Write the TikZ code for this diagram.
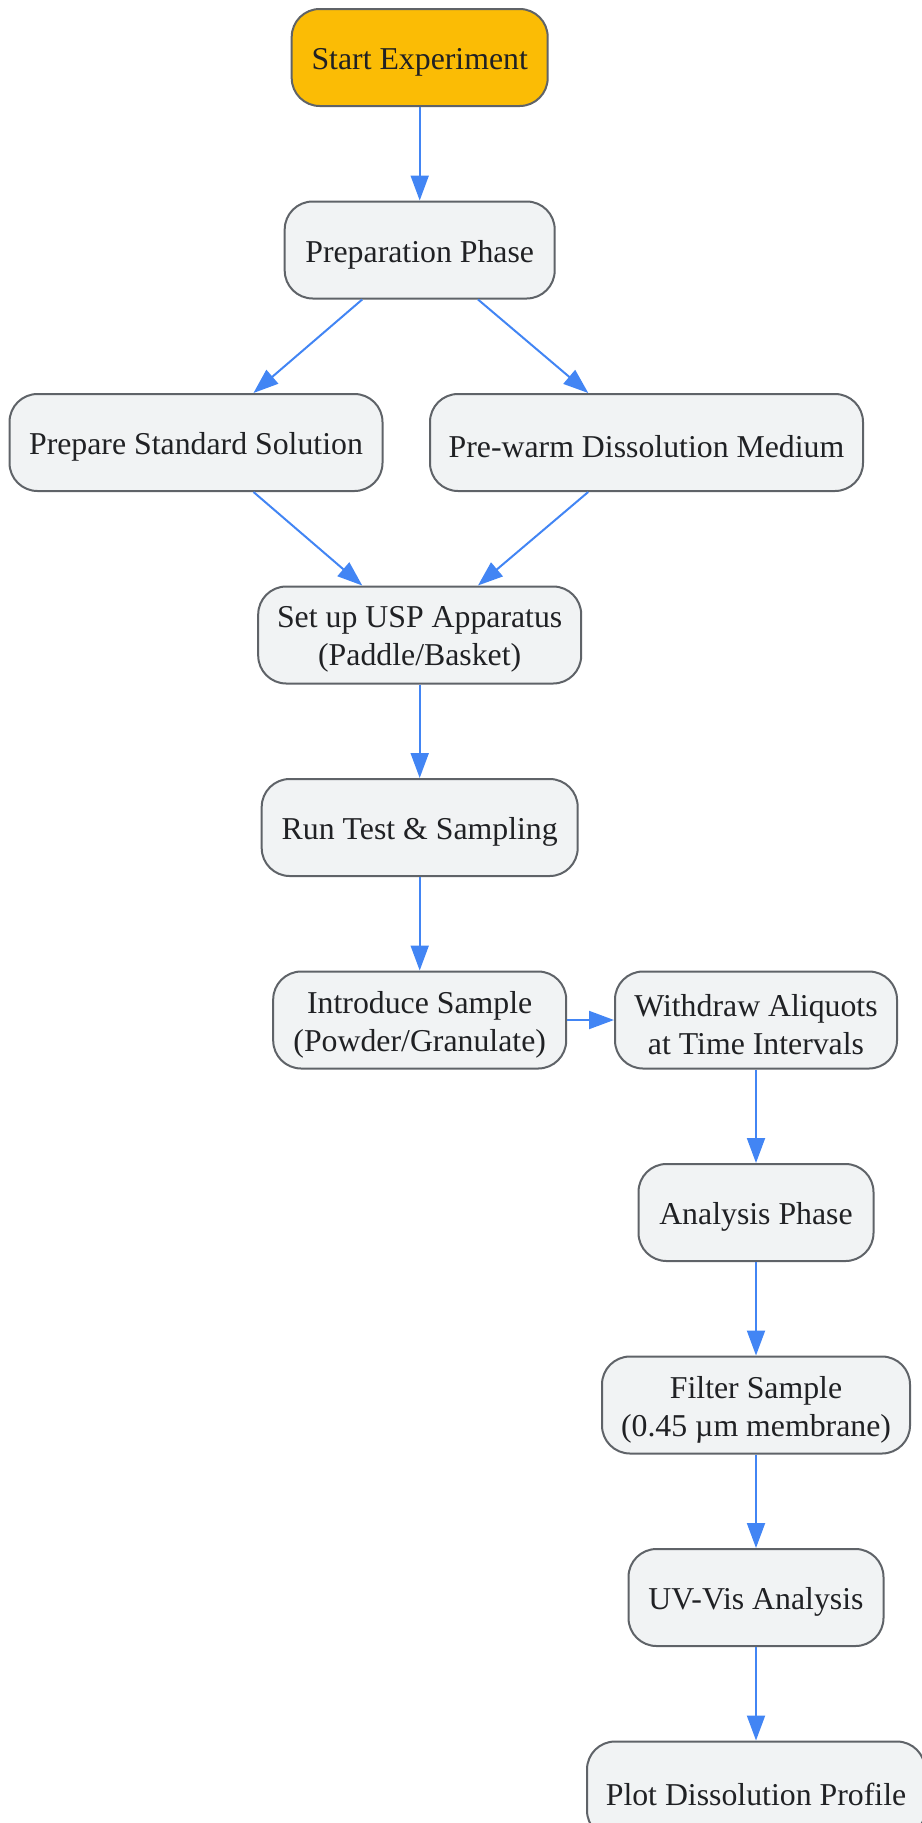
\documentclass[tikz,border=0pt]{standalone}
\usepackage{fontspec}
\setmainfont{Liberation Serif}
\usetikzlibrary{arrows.meta}
\definecolor{bordergray}{HTML}{5F6368}
\definecolor{boxfill}{HTML}{F1F3F4}
\definecolor{startfill}{HTML}{FBBC05}
\definecolor{arrowblue}{HTML}{4285F4}
\definecolor{txt}{HTML}{202124}
\tikzset{
  txtlbl/.style={align=center, text=txt, inner sep=0pt, yshift=-4.6pt,
    font=\fontsize{31.8}{38}\selectfont},
  box/.style={draw=bordergray, line width=2pt, fill=boxfill, rounded corners=28pt,
    minimum height=97pt, inner sep=0pt,
    label={[txtlbl]center:{#1}}},
  startbox/.style={box={#1}, fill=startfill},
  flow/.style={draw=arrowblue, line width=2pt, -{Triangle[length=25pt,width=18pt]}}
}
\begin{document}
\begin{tikzpicture}[x=1pt,y=-1pt]
\useasboundingbox (0,0) rectangle (921,1823);
\node[startbox={Start Experiment}, minimum width=256pt] (start) at (419.7,57.5) {};
\node[box={Preparation Phase}, minimum width=270pt] (prep) at (419.7,250) {};
\node[box={Prepare Standard Solution}, minimum width=373pt] (pss) at (196,442.5) {};
\node[box={Pre-warm Dissolution Medium}, minimum width=433pt] (pwm) at (646.5,442.5) {};
\node[box={Set up USP Apparatus\\(Paddle/Basket)}, minimum width=323pt] (usp) at (419.7,635) {};
\node[box={Run Test \& Sampling}, minimum width=316pt] (run) at (419.7,827.5) {};
\node[box={Introduce Sample\\(Powder/Granulate)}, minimum width=293pt] (intro) at (419.7,1020) {};
\node[box={Withdraw Aliquots\\at Time Intervals}, minimum width=282pt] (wd) at (756,1020) {};
\node[box={Analysis Phase}, minimum width=235pt] (ana) at (756,1212.5) {};
\node[box={Filter Sample\\(0.45 µm membrane)}, minimum width=308pt] (filt) at (756,1405) {};
\node[box={UV-Vis Analysis}, minimum width=255pt] (uv) at (756,1597.5) {};
\node[box={Plot Dissolution Profile}, minimum width=338pt] (plot) at (756,1790) {};
\draw[flow] (start) -- (prep);
\draw[flow] (prep) -- (pss);
\draw[flow] (prep) -- (pwm);
\draw[flow] (pss) -- (usp);
\draw[flow] (pwm) -- (usp);
\draw[flow] (usp) -- (run);
\draw[flow] (run) -- (intro);
\draw[flow] (intro) -- (wd);
\draw[flow] (wd) -- (ana);
\draw[flow] (ana) -- (filt);
\draw[flow] (filt) -- (uv);
\draw[flow] (uv) -- (plot);
\end{tikzpicture}
\end{document}
